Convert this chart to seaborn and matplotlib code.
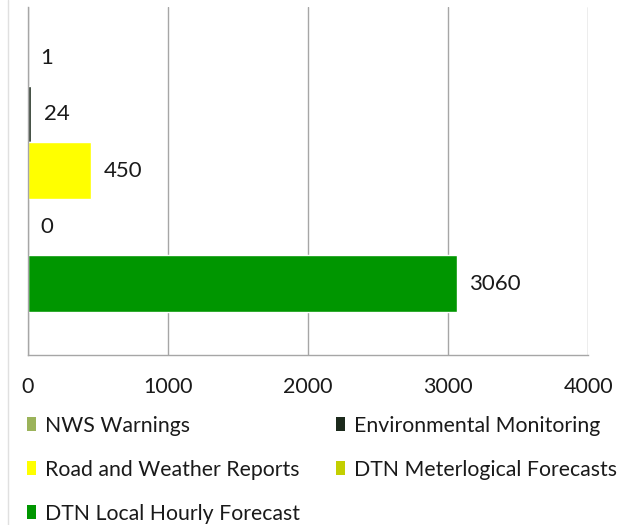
import matplotlib
matplotlib.use("Agg")
import matplotlib.pyplot as plt
from matplotlib.patches import Patch
from matplotlib.lines import Line2D
import pandas as pd
import seaborn as sns

# series shown as one clustered bar group
SERIES = ["NWS Warnings", "Environmental Monitoring", "Road and Weather Reports",
          "DTN Meterlogical Forecasts", "DTN Local Hourly Forecast"]
VALUES = [1, 24, 450, 0, 3060]
COLORS = ["#9bb35a", "#1c2a1c", "#ffff00", "#c3cf00", "#009600"]
X_TICKS = [0, 1000, 2000, 3000, 4000]

sns.set_theme(style="white")
plt.rcParams["font.family"] = ["Lato", "DejaVu Sans"]

df = pd.DataFrame({"group": ["all"] * len(SERIES), "series": SERIES, "value": VALUES})

fig = plt.figure(figsize=(6.28, 5.25), dpi=100)
ax = fig.add_axes([0.0446, 0.3238, 0.892, 0.663])

sns.barplot(data=df, x="value", y="group", hue="series", hue_order=SERIES,
            palette=COLORS, orient="h", dodge=True, width=0.8, saturation=1,
            legend=False, ax=ax)

for cont in ax.containers:
    ax.bar_label(cont, labels=[f"{v:g}" for v in cont.datavalues],
                 padding=9, fontsize=16, color="#1a1a1a")

ax.set_xlim(0, 4000)
ax.set_ylim(0.522, -0.464)
ax.set_xticks(X_TICKS)
ax.set_yticks([])
ax.set_xlabel("")
ax.set_ylabel("")
ax.grid(axis="x", color="#a6a6a6", linewidth=1)
ax.set_axisbelow(True)
ax.tick_params(axis="x", length=0, pad=16, labelsize=15.5, labelcolor="#1a1a1a")
for side in ["top", "right"]:
    ax.spines[side].set_visible(False)
for side in ["left", "bottom"]:
    ax.spines[side].set_color("#a6a6a6")
    ax.spines[side].set_linewidth(1)

# faint chart-area border on the left
fig.add_artist(Line2D([8 / 628, 8 / 628], [0, 1], color="#e0e0e0", linewidth=1))

# legend filled row by row: reorder for matplotlib's column-first layout
order = [0, 2, 4, 1, 3]
handles = [Patch(facecolor=COLORS[i], edgecolor="none") for i in order]
labels = [SERIES[i] for i in order]
fig.legend(handles, labels, ncol=2, loc="upper left",
           bbox_to_anchor=(0.012, 0.245), frameon=False, fontsize=15.3,
           handlelength=0.45, handleheight=0.6, handletextpad=0.4,
           columnspacing=1.7, labelspacing=1.13, labelcolor="#1a1a1a")

fig.savefig("out.png", dpi=100, facecolor="white")
